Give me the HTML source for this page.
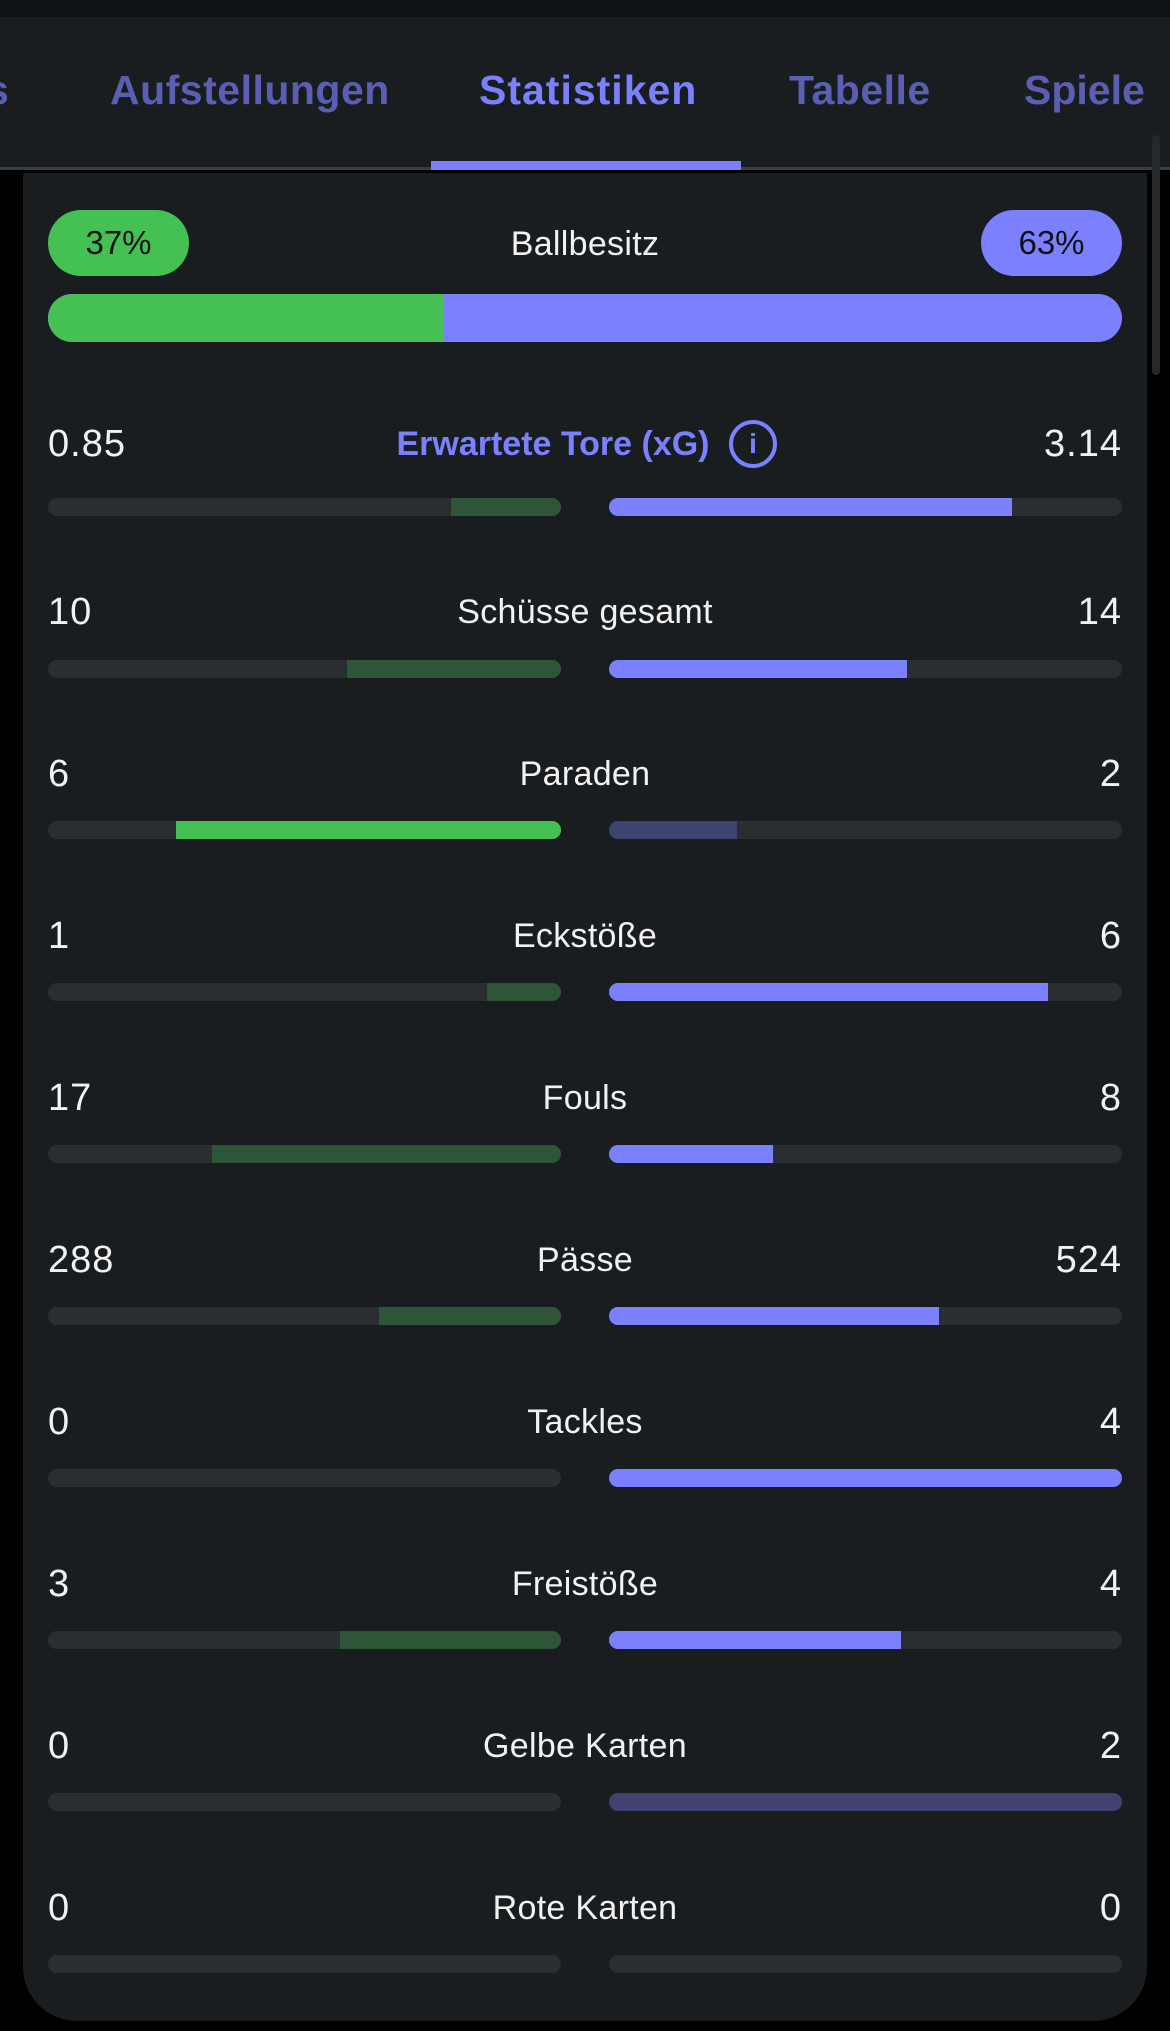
<!DOCTYPE html>
<html><head><meta charset="utf-8"><style>
*{margin:0;padding:0;box-sizing:border-box}
body{width:1170px;height:2031px;background:#000;font-family:"Liberation Sans",sans-serif;position:relative;overflow:hidden;color:#f2f2f2}
.top{position:absolute;left:0;top:0;width:1170px;height:17px;background:#101315}
.hdr{position:absolute;left:0;top:17px;width:1170px;height:153px;background:#1a1d20;border-bottom:3px solid #3a3d40}
.tab{position:absolute;top:50px;font-size:41px;font-weight:bold;color:#5b5fb3;white-space:nowrap;letter-spacing:0px}
.act{color:#7b80ff}
.ul{position:absolute;left:431px;top:161px;width:310px;height:9px;background:#7b80ff}
.card{position:absolute;left:23px;top:173px;width:1124px;height:1848px;background:#1a1d20;border-radius:0 0 54px 54px}
.sb{position:absolute;left:1152px;top:135px;width:8px;height:240px;border-radius:4px;background:#26292c}
.pill{position:absolute;top:210px;width:141px;height:66px;border-radius:33px;font-size:33px;color:#111;text-align:center;line-height:66px}
.lbl{position:absolute;left:0;width:1170px;text-align:center;font-size:34px;line-height:40px;letter-spacing:0.3px}
.v{position:absolute;font-size:38px;line-height:40px;letter-spacing:1px}
.l{left:48px}.r{right:48px;text-align:right}
.trk{position:absolute;height:18px;width:513px;background:#2a2e31;border-radius:9px;overflow:hidden}
.tl{left:48px}.tr{left:609px}
.f{position:absolute;top:0;height:18px}
.tl .f{right:0}.tr .f{left:0}
.g{background:#2e5538}.G{background:#45c153}.p{background:#7b80ff}.P{background:#3e4370}
</style></head><body>
<div class="top"></div>
<div class="hdr">
<div class="tab" style="left:-14px">s</div>
<div class="tab" style="left:110px;letter-spacing:0.5px">Aufstellungen</div>
<div class="tab act" style="left:479px;letter-spacing:1px">Statistiken</div>
<div class="tab" style="left:789px;letter-spacing:0.5px">Tabelle</div>
<div class="tab" style="left:1024px">Spiele</div>
</div>
<div class="ul"></div>
<div class="card"></div>
<div class="sb"></div>
<div class="pill" style="left:48px;background:#45c153">37%</div>
<div class="pill" style="left:981px;background:#7b80ff">63%</div>
<div class="lbl" style="top:224px">Ballbesitz</div>
<div style="position:absolute;left:48px;top:294px;width:1074px;height:48px;border-radius:24px;overflow:hidden;background:#7b80ff"><div style="width:396px;height:48px;background:#45c153"></div></div>

<div class="v l" style="top:424px">0.85</div><div class="v r" style="top:424px">3.14</div>
<div class="lbl" style="top:424px;color:#7b80ff;font-weight:bold;left:-32px;font-size:34px;letter-spacing:0">Erwartete Tore (xG)</div>
<div style="position:absolute;left:729px;top:420px;width:48px;height:48px;border:4px solid #7b80ff;border-radius:50%;color:#7b80ff;font-size:28px;font-weight:bold;text-align:center;line-height:40px">i</div>
<div class="trk tl" style="top:498px"><div class="f g" style="width:21.5%"></div></div>
<div class="trk tr" style="top:498px"><div class="f p" style="width:78.5%"></div></div>

<div class="v l" style="top:592px">10</div><div class="v r" style="top:592px">14</div>
<div class="lbl" style="top:592px">Schüsse gesamt</div>
<div class="trk tl" style="top:660px"><div class="f g" style="width:41.7%"></div></div>
<div class="trk tr" style="top:660px"><div class="f p" style="width:58%"></div></div>

<div class="v l" style="top:754px">6</div><div class="v r" style="top:754px">2</div>
<div class="lbl" style="top:754px">Paraden</div>
<div class="trk tl" style="top:821px"><div class="f G" style="width:75%"></div></div>
<div class="trk tr" style="top:821px"><div class="f P" style="width:25%"></div></div>

<div class="v l" style="top:916px">1</div><div class="v r" style="top:916px">6</div>
<div class="lbl" style="top:916px">Eckstöße</div>
<div class="trk tl" style="top:983px"><div class="f g" style="width:14.4%"></div></div>
<div class="trk tr" style="top:983px"><div class="f p" style="width:85.6%"></div></div>

<div class="v l" style="top:1078px">17</div><div class="v r" style="top:1078px">8</div>
<div class="lbl" style="top:1078px">Fouls</div>
<div class="trk tl" style="top:1145px"><div class="f g" style="width:68%"></div></div>
<div class="trk tr" style="top:1145px"><div class="f p" style="width:32%"></div></div>

<div class="v l" style="top:1240px">288</div><div class="v r" style="top:1240px">524</div>
<div class="lbl" style="top:1240px">Pässe</div>
<div class="trk tl" style="top:1307px"><div class="f g" style="width:35.4%"></div></div>
<div class="trk tr" style="top:1307px"><div class="f p" style="width:64.4%"></div></div>

<div class="v l" style="top:1402px">0</div><div class="v r" style="top:1402px">4</div>
<div class="lbl" style="top:1402px">Tackles</div>
<div class="trk tl" style="top:1469px"></div>
<div class="trk tr" style="top:1469px"><div class="f p" style="width:100%"></div></div>

<div class="v l" style="top:1564px">3</div><div class="v r" style="top:1564px">4</div>
<div class="lbl" style="top:1564px">Freistöße</div>
<div class="trk tl" style="top:1631px"><div class="f g" style="width:43%"></div></div>
<div class="trk tr" style="top:1631px"><div class="f p" style="width:57%"></div></div>

<div class="v l" style="top:1726px">0</div><div class="v r" style="top:1726px">2</div>
<div class="lbl" style="top:1726px">Gelbe Karten</div>
<div class="trk tl" style="top:1793px"></div>
<div class="trk tr" style="top:1793px"><div class="f P" style="width:100%"></div></div>

<div class="v l" style="top:1888px">0</div><div class="v r" style="top:1888px">0</div>
<div class="lbl" style="top:1888px">Rote Karten</div>
<div class="trk tl" style="top:1955px"></div>
<div class="trk tr" style="top:1955px"></div>
</body></html>
